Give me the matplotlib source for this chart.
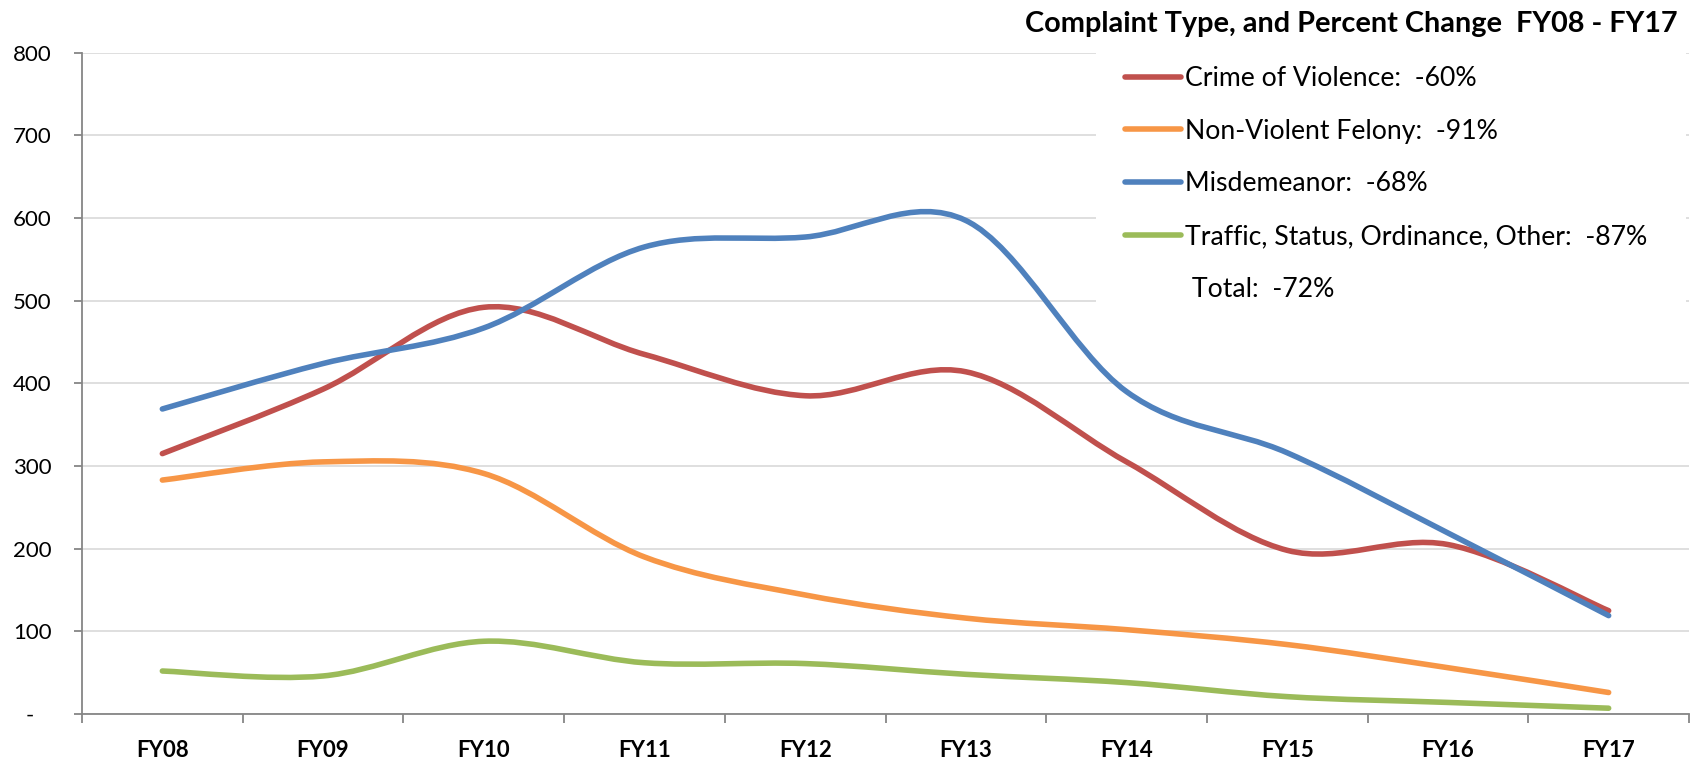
import matplotlib
matplotlib.use("Agg")
import matplotlib.pyplot as plt
import numpy as np
from matplotlib.path import Path
from matplotlib.patches import PathPatch, Rectangle
from matplotlib.lines import Line2D

years = ["FY08", "FY09", "FY10", "FY11", "FY12", "FY13", "FY14", "FY15", "FY16", "FY17"]
violence = [315, 393, 492, 435, 385, 414, 305, 198, 205, 125]
felony = [283, 305, 291, 190, 144, 116, 102, 84, 56, 26]
misdemeanor = [369, 424, 467, 565, 577, 597, 390, 316, 219, 119]
traffic = [52, 46, 88, 62, 61, 48, 38, 21, 14, 7]

series_names = ["Crime of Violence:  -60%", "Non-Violent Felony:  -91%",
                "Misdemeanor:  -68%", "Traffic, Status, Ordinance, Other:  -87%"]
total_label = " Total:  -72%"
colors = ["#C0504D", "#F79646", "#4F81BD", "#9BBB59"]
title = "Complaint Type, and Percent Change  FY08 - FY17"
yticks = [0, 100, 200, 300, 400, 500, 600, 700, 800]
ytick_labels = ["-   ", "100", "200", "300", "400", "500", "600", "700", "800"]

font = ["Lato", "DejaVu Sans"]

W, H = 1694, 760
fig = plt.figure(figsize=(W / 100, H / 100), dpi=100)
ax = fig.add_axes([82 / W, 1 - 714 / H, (1689 - 82) / W, (714 - 52.7) / H])


def smooth_path(ys):
    # Excel-style smoothed line: Catmull-Rom segments as cubic Beziers
    pts = np.column_stack([np.arange(len(ys)), ys]).astype(float)
    verts = [pts[0]]
    codes = [Path.MOVETO]
    n = len(pts)
    for i in range(n - 1):
        p0 = pts[max(i - 1, 0)]
        p1 = pts[i]
        p2 = pts[i + 1]
        p3 = pts[min(i + 2, n - 1)]
        verts += [p1 + (p2 - p0) / 6, p2 - (p3 - p1) / 6, p2]
        codes += [Path.CURVE4] * 3
    return Path(verts, codes)


for ys, c in zip([violence, felony, misdemeanor, traffic], colors):
    ax.add_patch(PathPatch(smooth_path(ys), fill=False, edgecolor=c, lw=4,
                           capstyle="round", joinstyle="round", zorder=3))

ax.set_xlim(-0.5, len(years) - 0.5)
ax.set_ylim(0, 800)

ax.set_axisbelow(True)
ax.grid(axis="y", color="#D9D9D9", lw=1.2)
# white area behind the legend hides the gridlines
ax.add_patch(Rectangle((0.631, 0.58), 0.367, 0.5, transform=ax.transAxes,
                       facecolor="white", edgecolor="none", zorder=1,
                       clip_on=False))

for s in ["top", "right"]:
    ax.spines[s].set_visible(False)
for s in ["left", "bottom"]:
    ax.spines[s].set_color("#868686")
    ax.spines[s].set_linewidth(1.3)

ax.set_yticks(yticks)
ax.set_yticklabels(ytick_labels, fontsize=16, family=font)
ax.tick_params(axis="y", length=5.5, width=1.3, color="#868686", pad=16.5)

ax.set_xticks(np.arange(-0.5, len(years), 1))
ax.set_xticklabels([])
ax.set_xticks(np.arange(len(years)), minor=True)
ax.set_xticklabels(years, minor=True, fontsize=16, fontweight="bold",
                   family=font)
ax.tick_params(axis="x", which="major", length=6.5, width=1.3, color="#868686")
ax.tick_params(axis="x", which="minor", length=0, pad=19)

handles = [Line2D([], [], color=c, lw=4, solid_capstyle="round") for c in colors]
handles.append(Line2D([], [], color="none"))
ax.legend(handles, series_names + [total_label], loc="upper left",
          bbox_to_anchor=(1125 / W, 1 - 66 / H), bbox_transform=fig.transFigure,
          frameon=False, prop={"family": font, "size": 19.2},
          handlelength=2.1, handletextpad=0.15, labelspacing=1.04,
          borderpad=0, borderaxespad=0)

fig.text(1678 / W, 1 - 24 / H, title, ha="right", va="center",
         fontsize=20.8, fontweight="bold", family=font)

fig.savefig("out.png", dpi=100)
